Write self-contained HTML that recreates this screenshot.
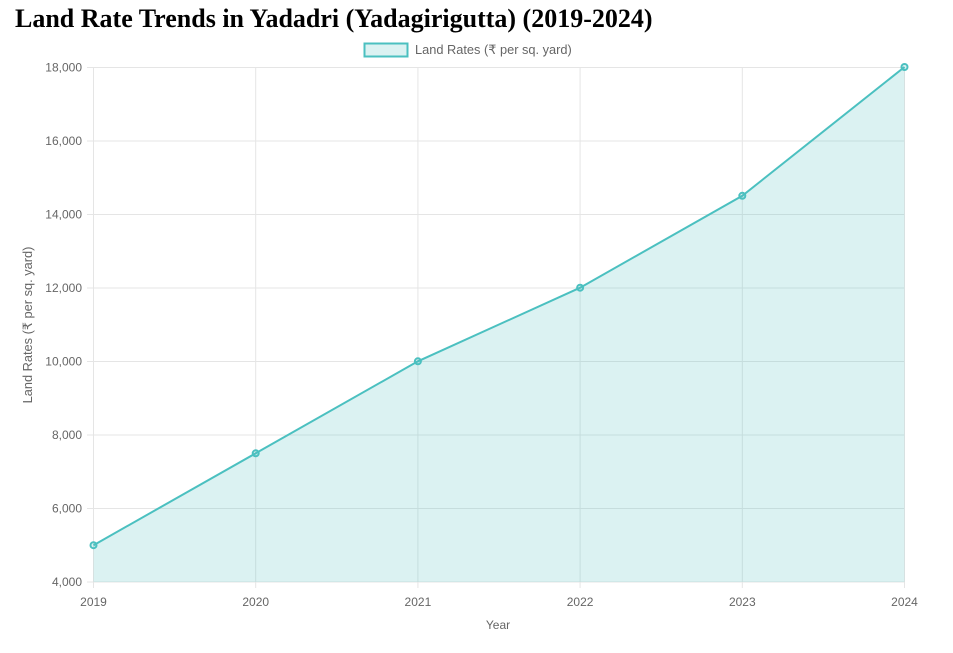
<!DOCTYPE html>
<html><head><meta charset="utf-8"><style>
body{margin:0;background:#fff;width:953px;height:648px;overflow:hidden}
</style></head><body>
<svg width="953" height="648" xmlns="http://www.w3.org/2000/svg" font-family="Liberation Sans, DejaVu Sans, sans-serif">
<text x="15" y="27" font-family="Liberation Serif, serif" font-weight="bold" font-size="26" fill="#000">Land Rate Trends in Yadadri (Yadagirigutta) (2019-2024)</text>
<rect x="364.5" y="43.5" width="43" height="13" fill="rgba(75,192,192,0.2)" stroke="#4bc0c0" stroke-width="2"/>
<text x="415" y="54" font-size="12.8" fill="#666">Land Rates (₹ per sq. yard)</text>
<g stroke="#e5e5e5" stroke-width="1">
<line x1="87" y1="67.5" x2="904" y2="67.5"/>
<line x1="87" y1="141" x2="904" y2="141"/>
<line x1="87" y1="214.5" x2="904" y2="214.5"/>
<line x1="87" y1="288" x2="904" y2="288"/>
<line x1="87" y1="361.5" x2="904" y2="361.5"/>
<line x1="87" y1="435" x2="904" y2="435"/>
<line x1="87" y1="508.5" x2="904" y2="508.5"/>
<line x1="87" y1="582" x2="904" y2="582"/>
<line x1="93.5" y1="67" x2="93.5" y2="588"/>
<line x1="255.7" y1="67" x2="255.7" y2="588"/>
<line x1="417.9" y1="67" x2="417.9" y2="588"/>
<line x1="580.1" y1="67" x2="580.1" y2="588"/>
<line x1="742.3" y1="67" x2="742.3" y2="588"/>
<line x1="904.5" y1="67" x2="904.5" y2="588"/>
</g>
<polygon points="93.5,545.2 255.7,453.3 417.9,361.3 580.1,287.7 742.3,195.8 904.5,67 904.5,582 93.5,582" fill="rgba(75,192,192,0.2)"/>
<polyline points="93.5,545.2 255.7,453.3 417.9,361.3 580.1,287.7 742.3,195.8 904.5,67" fill="none" stroke="#4bc0c0" stroke-width="2"/>
<g fill="rgba(75,192,192,0.2)" stroke="#4bc0c0" stroke-width="2">
<circle cx="93.5" cy="545.2" r="3"/><circle cx="255.7" cy="453.3" r="3"/><circle cx="417.9" cy="361.3" r="3"/>
<circle cx="580.1" cy="287.7" r="3"/><circle cx="742.3" cy="195.8" r="3"/><circle cx="904.5" cy="67" r="3"/>
</g>
<g font-size="12" fill="#666" text-anchor="end">
<text x="82" y="71.5">18,000</text><text x="82" y="145">16,000</text><text x="82" y="218.5">14,000</text>
<text x="82" y="292">12,000</text><text x="82" y="365.5">10,000</text><text x="82" y="439">8,000</text>
<text x="82" y="512.5">6,000</text><text x="82" y="586">4,000</text>
</g>
<g font-size="12" fill="#666" text-anchor="middle">
<text x="93.5" y="606">2019</text><text x="255.7" y="606">2020</text><text x="417.9" y="606">2021</text>
<text x="580.1" y="606">2022</text><text x="742.3" y="606">2023</text><text x="904.5" y="606">2024</text>
<text x="498" y="629">Year</text>
<text transform="translate(32,325) rotate(-90)" font-size="12.8">Land Rates (₹ per sq. yard)</text>
</g>
</svg>
</body></html>
